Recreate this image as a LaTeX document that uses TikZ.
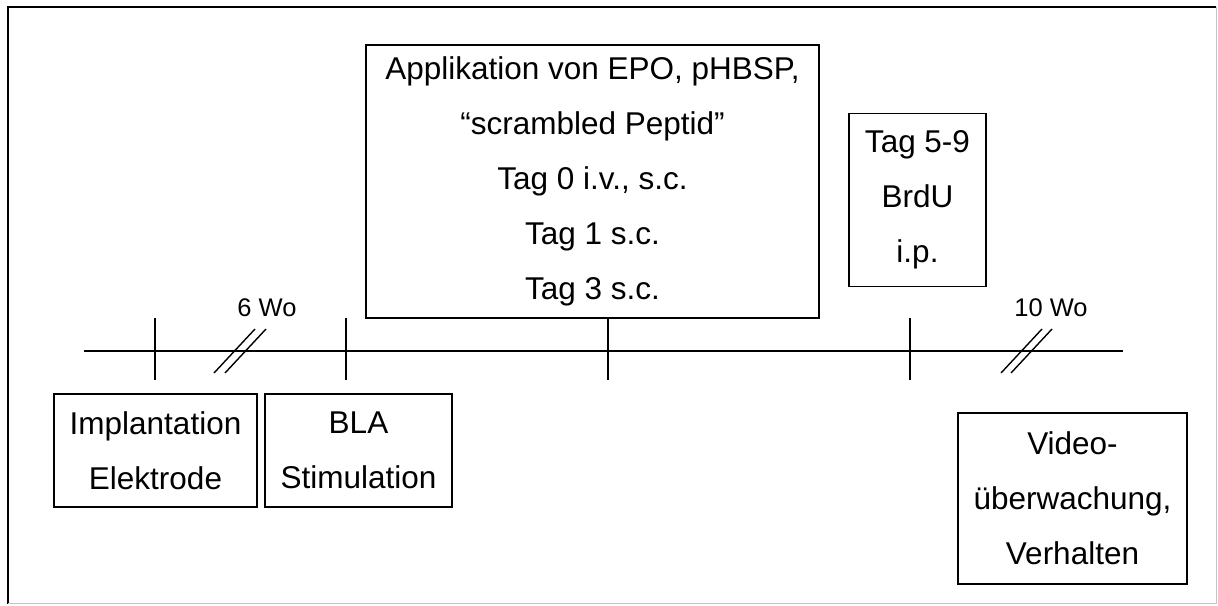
\documentclass[tikz,border=0pt]{standalone}
\usepackage{fontspec}
\setmainfont{Liberation Sans}
\begin{document}
\begin{tikzpicture}[x=1pt,y=-1pt,line width=1.8pt]
	\tikzset{b/.style={draw,rectangle,align=center,inner sep=0pt,font=\fontsize{31.5}{55}\selectfont},
	wo/.style={font=\fontsize{25.5}{30}\selectfont}}
	\useasboundingbox(0,0)rectangle(1218,605);
	\draw[line width=2.2pt](8,604)--(8,7)--(1216,7);
	\draw[gray!45,line width=1pt](1216,7)--(1216,603)--(8,603);
	\path(84,351)coordinate(t0)(1123,351)coordinate(t1);
	\draw(t0)--(t1);
	\foreach \x in {155,346,608,910}
	\draw(\x,318)--(\x,380);
	\foreach \x in {214,225,1001,1011}
	\draw[line width=1.4pt](\x,373)--++(41,-44);
	\path(267,308)node[wo](w6){6 Wo}(1051,308)node[wo](w10){10 Wo};
	\path(155.5,450.5)node[b,minimum width=203pt,minimum height=113pt](impl){Implantation\\Elektrode}
	++(203,0)node[b,minimum width=187pt,minimum height=113pt](bla){BLA\\Stimulation};
	\path(592.5,181.5)node[b,minimum width=453pt,minimum height=273pt](appl){Applikation von EPO, pHBSP,\\“scrambled Peptid”\\Tag 0 i.v., s.c.\\Tag 1 s.c.\\Tag 3 s.c.};
	\path(917.5,200)node[b,minimum width=137pt,minimum height=173pt](brdu){Tag 5-9\\BrdU\\i.p.};
	\path(1072.5,498.5)node[b,minimum width=229pt,minimum height=171pt](video){Video-\\überwachung,\\Verhalten};
\end{tikzpicture}
\end{document}
